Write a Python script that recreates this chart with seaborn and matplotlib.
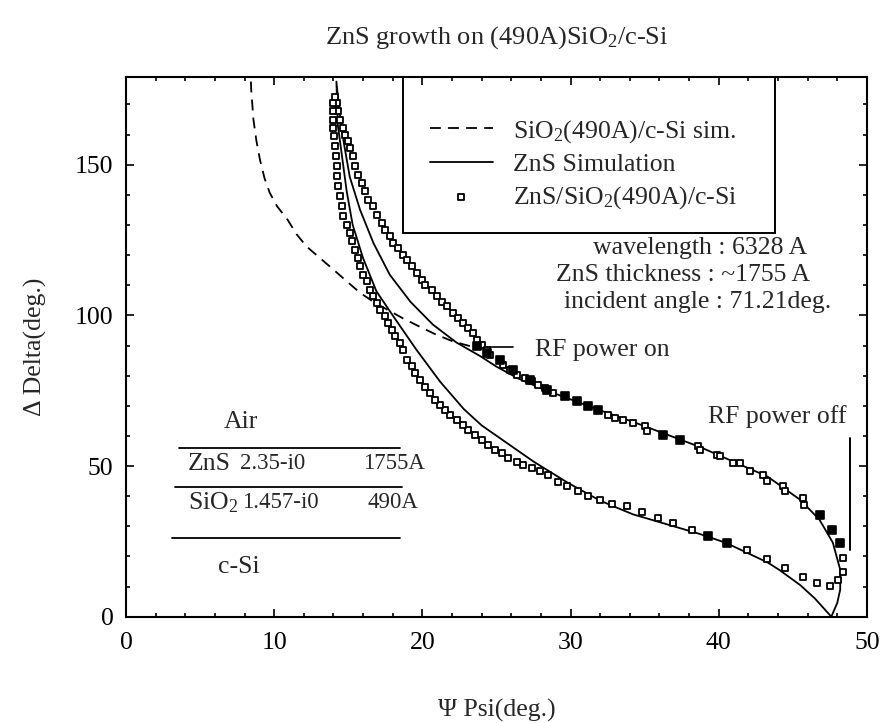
import matplotlib
matplotlib.use("Agg")
import matplotlib.pyplot as plt
import seaborn as sns
import pandas as pd
from matplotlib.patches import Rectangle
from matplotlib.ticker import MultipleLocator

# SiO2(490A)/c-Si simulation (dashed)
sio2_psi = [8.43, 8.45, 8.6, 8.8, 9.04, 9.35, 9.7, 10.2, 10.9, 11.5, 12.2, 13.1, 14.0,
            14.9, 15.8, 16.7, 17.6, 18.7, 19.8, 20.9, 22.1, 23.6]
sio2_delta = [177.6, 175, 165, 158, 151.7, 145.5, 140.7, 136.2, 131.8, 127, 122.8, 119, 115.2,
              111.3, 107.5, 104.5, 102, 99, 96.3, 93.7, 91.3, 89.3]

# ZnS simulation (solid), one loop
sim_psi = [47.6, 46.5, 45.5, 44.1, 43.3, 40.5, 38.7, 34.2, 32.0, 29.8, 27.5, 25.4, 24.0,
           22.8, 21.2, 19.6, 18.0, 16.9, 16.0, 15.3, 14.9, 14.6, 14.3, 14.2,
           14.4, 14.7, 15.1, 15.8, 16.7, 17.8, 19.2, 20.7, 22.3, 23.9, 25.0, 26.5, 28.0,
           29.8, 32.0, 34.2, 38.7, 43.3, 45.5, 46.8, 47.7, 48.2, 48.2, 48.0, 47.6]
sim_delta = [0, 6, 10.5, 15.5, 18, 24.5, 27.5, 34, 38.5, 44.5, 51.5, 58.7, 63.5,
             68.9, 78, 88.6, 100, 108, 119, 130, 141, 152, 163, 177.6,
             168, 157.3, 146, 135, 124, 113.5, 104.5, 97, 91, 86.5, 83, 79, 75.8,
             72.5, 68.5, 64.7, 56.4, 46.5, 38.8, 32.2, 24.6, 15.6, 9, 4.6, 0]

# ZnS/SiO2(490A)/c-Si measured points
meas_psi = [14.22, 14.33, 14.44, 14.62, 14.78, 15.0, 15.11, 15.34, 15.45, 15.68, 15.9, 16.13,
            16.35, 16.69, 16.92, 17.25, 17.48, 17.81, 18.04, 18.38, 18.71, 18.94, 19.28,
            19.61, 19.95, 20.18, 20.63, 20.96, 21.3, 21.64, 22.09, 22.42, 22.76, 23.1,
            23.43, 23.66, 24.0, 24.34, 24.56,
            25.46, 25.91, 26.36, 26.92, 27.37, 27.82, 28.27, 28.83, 32.54, 33.0, 33.56,
            34.23, 35.02, 35.13, 38.62, 38.73, 39.86, 40.08, 40.98, 41.43, 42.1, 43.0,
            43.23, 44.35, 44.47, 45.7, 45.75,
            48.4, 48.4, 48.06, 47.5, 46.6, 45.66, 44.47, 43.23, 41.88, 38.17, 36.93,
            35.92, 34.8, 33.78, 32.77, 31.98, 31.19, 30.52, 29.74, 29.17, 28.5, 27.94,
            27.37, 26.81, 26.36, 25.8, 25.35, 24.9, 24.45, 24.0, 23.55, 23.1, 22.76,
            22.31, 21.86, 21.52, 21.19, 20.85, 20.51, 20.18, 19.84, 19.5, 19.28, 18.94,
            18.71, 18.49, 18.15, 17.93, 17.7, 17.48, 17.14, 16.92, 16.69, 16.46, 16.24,
            16.01, 15.79, 15.68, 15.45, 15.23, 15.11, 14.89, 14.66, 14.55, 14.44, 14.33,
            14.26, 14.22, 14.17, 14.1, 14.04, 13.99, 13.95, 13.99, 13.99, 14.1]
meas_delta = [170.5, 167.7, 165.0, 162.2, 160.0, 157.8, 155.5, 152.8, 149.5, 146.7, 143.9, 141.2,
              138.4, 136.2, 133.4, 130.7, 128.4, 126.2, 124.0, 122.4, 120.1, 118.5, 116.3,
              114.1, 111.8, 110.2, 108.5, 106.3, 104.6, 103.0, 100.8, 99.1, 97.5, 95.8,
              94.2, 91.9, 90.3, 88.6, 87.0,
              83.6, 82.0, 80.3, 79.2, 78.1, 77.0, 75.9, 74.2, 67.0, 65.9, 65.4,
              64.3, 63.2, 61.5, 56.5, 55.4, 53.8, 53.2, 51.0, 51.0, 48.2, 47.1,
              45.2, 43.5, 41.6, 39.4, 37.2,
              19.5, 15.0, 12.3, 10.3, 11.2, 13.1, 16.2, 19.1, 22.2, 28.9, 31.1,
              32.8, 34.6, 36.6, 37.5, 38.8, 40.2, 41.6, 43.3, 44.6, 47.1, 48.2,
              49.4, 50.4, 51.5, 52.7, 54.3, 55.4, 57.1, 58.7, 60.4, 62.1, 63.7,
              65.4, 67.0, 68.7, 70.4, 72.0, 74.2, 76.4, 78.7, 80.9, 83.1, 85.3,
              88.6, 90.8, 93.0, 95.3, 97.5, 99.7, 101.9, 104.1, 106.3, 108.5, 111.3,
              113.5, 116.3, 119.0, 121.8, 124.6, 127.4, 130.1, 132.9, 136.2, 139.5, 142.8,
              146.1, 149.5, 152.8, 156.1, 159.4, 162.2, 165.0, 167.7, 170.5, 172.5]

# overlapping (blotted) measured points
blot_psi = [23.66, 24.34, 25.24, 26.1, 27.26, 28.4, 29.62, 30.41, 31.19, 31.87,
            36.26, 37.38, 46.83, 47.62, 48.18, 40.53, 39.29]
blot_delta = [89.7, 87.5, 85.3, 82.0, 78.7, 75.3, 73.1, 71.5, 69.8, 68.7,
              60.4, 58.7, 33.9, 28.9, 24.5, 24.5, 26.9]

sns.set_theme(style="ticks")
plt.rcParams["font.family"] = ["Liberation Serif", "DejaVu Serif"]
plt.rcParams["mathtext.fontset"] = "custom"
plt.rcParams["mathtext.rm"] = "Liberation Serif"
plt.rcParams["mathtext.default"] = "regular"

FS = 18.5
TS = 16.5  # numbers in the layer table

fig = plt.figure(figsize=(8.81, 7.23), dpi=100)
ax = fig.add_axes([0.143, 0.147, 0.841, 0.746])

sio2 = pd.DataFrame({"psi": sio2_psi, "delta": sio2_delta})
sim = pd.DataFrame({"psi": sim_psi, "delta": sim_delta})
meas = pd.DataFrame({"psi": meas_psi, "delta": meas_delta})
blot = pd.DataFrame({"psi": blot_psi, "delta": blot_delta})

sns.lineplot(data=sio2, x="psi", y="delta", sort=False, estimator=None, ax=ax,
             color="black", lw=1.3, label="SiO$_2$(490A)/c-Si sim.")
ax.lines[-1].set_dashes([6, 4])
sns.lineplot(data=sim, x="psi", y="delta", sort=False, estimator=None, ax=ax,
             color="black", lw=1.3, label="ZnS Simulation")
sns.scatterplot(data=meas, x="psi", y="delta", ax=ax, marker="s", s=24,
                facecolor="white", edgecolor="black", linewidth=1.3,
                label="ZnS/SiO$_2$(490A)/c-Si", zorder=3)
sns.scatterplot(data=blot, x="psi", y="delta", ax=ax, marker="s", s=28,
                color="black", edgecolor="black", linewidth=1.2, zorder=3)

ax.set_xlim(0, 50)
ax.set_ylim(0, 179)
ax.xaxis.set_major_locator(MultipleLocator(10))
ax.xaxis.set_minor_locator(MultipleLocator(2))
ax.yaxis.set_major_locator(MultipleLocator(50))
ax.yaxis.set_minor_locator(MultipleLocator(10))
ax.tick_params(which="both", direction="in", top=True, right=True, width=1.2,
               colors="black", labelsize=FS)
ax.tick_params(which="major", length=6)
ax.tick_params(which="minor", length=3)
ax.tick_params(axis="x", pad=11)
ax.tick_params(axis="y", pad=9)
for sp in ax.spines.values():
    sp.set_linewidth(1.5)
    sp.set_color("black")

ax.set_xlabel("\u03a8 Psi(deg.)", fontsize=FS, labelpad=32)
ax.set_ylabel("\u0394 Delta(deg.)", fontsize=FS, labelpad=20)
ax.set_title("ZnS growth on (490A)SiO$_2$/c-Si", fontsize=19, pad=24)

# legend inside a drawn box
ax.add_patch(Rectangle((0.374, 0.711), 0.502, 0.289, transform=ax.transAxes,
                       fill=False, edgecolor="black", lw=1.4, zorder=4))
leg = ax.legend(loc="upper left", bbox_to_anchor=(0.41, 0.925), frameon=False,
                fontsize=FS, handlelength=2.45, handletextpad=0.8, labelspacing=0.32,
                borderpad=0, borderaxespad=0, markerscale=1.0)

# info text
ax.text(38.76, 122.5, "wavelength : 6328 A", fontsize=FS, ha="center", va="center")
ax.text(37.6, 113.5, "ZnS thickness : ~1755 A", fontsize=FS, ha="center", va="center")
ax.text(38.6, 104.5, "incident angle : 71.21deg.", fontsize=FS, ha="center", va="center")

ax.plot([23.9, 26.1], [89.6, 89.6], color="black", lw=1.2)
ax.text(27.6, 88.6, "RF power on", fontsize=FS, ha="left", va="center")
ax.plot([48.85, 48.85], [22, 59.4], color="black", lw=1.4)
ax.text(39.3, 66.4, "RF power off", fontsize=FS, ha="left", va="center")

# layer table
ax.text(7.76, 64.7, "Air", fontsize=FS, ha="center", va="center")
ax.plot([3.6, 18.5], [56.1, 56.1], color="black", lw=1.3)
ax.text(4.2, 50.8, "ZnS", fontsize=FS, ha="left", va="center")
ax.text(7.7, 50.8, "2.35-i0", fontsize=TS, ha="left", va="center")
ax.text(16.0, 50.8, "1755A", fontsize=TS, ha="left", va="center")
ax.plot([3.3, 18.6], [43.1, 43.1], color="black", lw=1.3)
ax.text(4.2, 37.8, "SiO$_2$", fontsize=FS, ha="left", va="center")
ax.text(7.85, 37.8, "1.457-i0", fontsize=TS, ha="left", va="center")
ax.text(16.3, 37.8, "490A", fontsize=TS, ha="left", va="center")
ax.plot([3.1, 18.5], [26.2, 26.2], color="black", lw=1.3)
ax.text(6.2, 16.6, "c-Si", fontsize=FS, ha="left", va="center")

fig.savefig("out.png", dpi=100)
